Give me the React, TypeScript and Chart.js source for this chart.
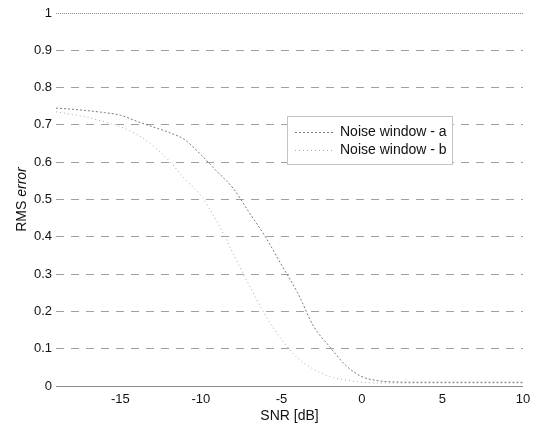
import React, { useEffect, useRef } from "react";
import { Chart, registerables } from "chart.js";

Chart.register(...registerables);

// ---- data ----
const snr = [-19, -18, -17, -16, -15, -14, -13, -12, -11, -10, -9, -8, -7, -6, -5, -4, -3, -2, -1, 0, 1, 2, 3, 4, 5, 6, 7, 8, 9, 10];
const noiseA = [0.745, 0.742, 0.738, 0.733, 0.726, 0.71, 0.695, 0.68, 0.66, 0.62, 0.575, 0.53, 0.465, 0.4, 0.325, 0.25, 0.16, 0.105, 0.055, 0.025, 0.014, 0.011, 0.01, 0.01, 0.01, 0.01, 0.01, 0.01, 0.01, 0.01];
const noiseB = [0.735, 0.728, 0.72, 0.708, 0.695, 0.675, 0.645, 0.605, 0.555, 0.51, 0.44, 0.355, 0.27, 0.19, 0.125, 0.075, 0.045, 0.025, 0.016, 0.01, 0.008, 0.008, 0.008, 0.008, 0.008, 0.008, 0.008, 0.008, 0.008, 0.008];
const seriesLabels = ["Noise window - a", "Noise window - b"];
const xTicks = [-15, -10, -5, 0, 5, 10];
const yTicks = [0, 0.1, 0.2, 0.3, 0.4, 0.5, 0.6, 0.7, 0.8, 0.9, 1];
const xTitle = "SNR [dB]";
const yTitleParts = ["RMS ", "error"];

const FAMILY = '"Liberation Sans", Arial, Helvetica, sans-serif';

const yTitlePlugin = {
  id: "yTitleMixed",
  afterDraw(chart: any) {
    const { ctx, chartArea } = chart;
    const cy = (chartArea.top + chartArea.bottom) / 2;
    ctx.save();
    ctx.translate(22, cy);
    ctx.rotate(-Math.PI / 2);
    ctx.fillStyle = "#111";
    ctx.textBaseline = "middle";
    ctx.textAlign = "left";
    const f1 = `14px ${FAMILY}`;
    const f2 = `italic 14px ${FAMILY}`;
    ctx.font = f1;
    const w1 = ctx.measureText(yTitleParts[0]).width;
    ctx.font = f2;
    const w2 = ctx.measureText(yTitleParts[1]).width;
    const x = -(w1 + w2) / 2;
    ctx.font = f1;
    ctx.fillText(yTitleParts[0], x, 0);
    ctx.font = f2;
    ctx.fillText(yTitleParts[1], x + w1, 0);
    ctx.restore();
  },
};

const legendPlugin = {
  id: "insideLegend",
  afterDraw(chart: any) {
    const { ctx } = chart;
    const left = 287;
    const top = 116;
    const right = 453;
    const bottom = 165;
    ctx.save();
    ctx.fillStyle = "#fff";
    ctx.fillRect(left, top, right - left, bottom - top);
    ctx.strokeStyle = "#c4c4c4";
    ctx.lineWidth = 1;
    ctx.strokeRect(left + 0.5, top + 0.5, right - left - 1, bottom - top - 1);
    const rows = [132, 150];
    chart.data.datasets.forEach((ds: any, i: number) => {
      const y = rows[i] + 0.5;
      ctx.strokeStyle = ds.borderColor;
      ctx.lineWidth = ds.borderWidth;
      ctx.setLineDash(ds.borderDash || []);
      ctx.beginPath();
      ctx.moveTo(295, y);
      ctx.lineTo(335, y);
      ctx.stroke();
      ctx.setLineDash([]);
      ctx.fillStyle = "#111";
      ctx.font = `14px ${FAMILY}`;
      ctx.textBaseline = "middle";
      ctx.textAlign = "left";
      ctx.fillText(ds.label, 340, rows[i]);
    });
    ctx.restore();
  },
};

export default function App() {
  const ref = useRef<HTMLCanvasElement>(null);
  useEffect(() => {
    document.body.style.margin = "0";
    const isVal = (ctx: any, v: number) => ctx.tick && Math.abs(ctx.tick.value - v) < 1e-9;
    const chart = new Chart(ref.current!, {
      type: "line",
      data: {
        labels: snr,
        datasets: [
          {
            label: seriesLabels[0],
            data: snr.map((x, i) => ({ x, y: noiseA[i] })),
            borderColor: "#7a7a7a",
            borderWidth: 1,
            borderDash: [2, 2],
            pointRadius: 0,
            cubicInterpolationMode: "monotone",
          },
          {
            label: seriesLabels[1],
            data: snr.map((x, i) => ({ x, y: noiseB[i] })),
            borderColor: "#a8a8a8",
            borderWidth: 1,
            borderDash: [1, 3],
            pointRadius: 0,
            cubicInterpolationMode: "monotone",
          },
        ],
      },
      options: {
        responsive: false,
        animation: false,
        devicePixelRatio: 1,
        layout: { padding: { top: 13, right: 21, left: 0, bottom: 0 } },
        plugins: { legend: { display: false }, tooltip: { enabled: false } },
        scales: {
          x: {
            type: "linear",
            min: -19,
            max: 10,
            afterBuildTicks: (s: any) => {
              s.ticks = xTicks.map((v) => ({ value: v }));
            },
            afterFit: (s: any) => {
              s.height = 39;
            },
            grid: { display: false, drawTicks: false },
            border: { display: false },
            ticks: {
              color: "#111",
              padding: 6,
              maxRotation: 0,
              autoSkip: false,
              font: { size: 13, family: FAMILY },
              callback: (v: any) => String(v),
            },
            title: {
              display: true,
              text: xTitle,
              color: "#111",
              font: { size: 14, family: FAMILY },
              padding: { top: 0, bottom: 0 },
            },
          },
          y: {
            type: "linear",
            min: 0,
            max: 1,
            afterBuildTicks: (s: any) => {
              s.ticks = yTicks.map((v) => ({ value: v }));
            },
            afterFit: (s: any) => {
              s.width = 56;
            },
            grid: {
              drawTicks: false,
              lineWidth: 1,
              color: (ctx: any) => (isVal(ctx, 0) ? "#8c8c8c" : isVal(ctx, 1) ? "#8c8c8c" : "#a0a0a0"),
            },
            border: {
              display: false,
              dash: (ctx: any) => (isVal(ctx, 0) ? [] : isVal(ctx, 1) ? [1, 1] : [8, 7]),
            },
            ticks: {
              color: "#111",
              padding: 4,
              autoSkip: false,
              font: { size: 13, family: FAMILY },
              callback: (v: any) => String(v),
            },
          },
        },
      },
      plugins: [yTitlePlugin, legendPlugin],
    } as any);
    return () => chart.destroy();
  }, []);
  return (
    <div style={{ width: 544, height: 425 }}>
      <canvas ref={ref} width={544} height={425} style={{ display: "block" }} />
    </div>
  );
}
